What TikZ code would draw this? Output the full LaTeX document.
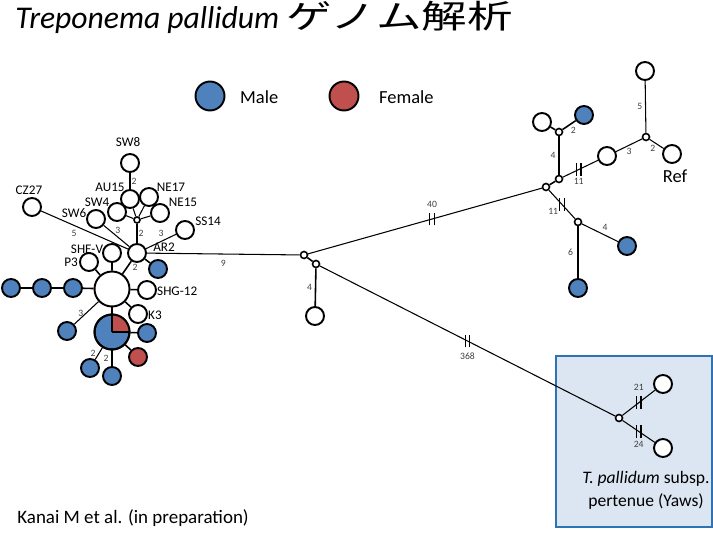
\documentclass[tikz,border=0pt]{standalone}
\usepackage{graphicx}
\usepackage{fontspec}
\setmainfont{Carlito}
\newfontfamily\cjk{Noto Sans CJK JP}
\usepackage{tikz}
\usetikzlibrary{positioning, decorations.markings}

\definecolor{maleblue}{HTML}{4F81BD}
\definecolor{femred}{HTML}{C0504D}
\definecolor{yawsfill}{HTML}{DCE6F2}
\definecolor{yawsline}{HTML}{2E74B5}

\begin{document}
\begin{tikzpicture}[
  % one unit = one pixel of the slide, y runs downwards
  x=0.02cm,
  y=-0.02cm,
  st/.style={circle, draw, line width=1.1pt, fill=white, minimum size=0.36cm, inner sep=0pt},
  stm/.style={st, fill=maleblue},
  stf/.style={st, fill=femred},
  stbig/.style={st, minimum size=0.7cm},
  hub/.style={circle, draw, line width=0.9pt, fill=white, minimum size=0.14cm, inner sep=0pt},
  lab/.style={font=\fontsize{7.5}{8}\selectfont, inner sep=0.5pt},
  num/.style={font=\fontsize{5.5}{6}\selectfont, text=black!75, inner sep=0.5pt},
  link/.style={line width=0.9pt},
  thin link/.style={line width=0.6pt},
  brk/.style={postaction={decorate, decoration={markings,
      mark=at position #1 with {\pgftransformresetnontranslations
        \draw[line width=0.8pt] (-1.3pt,-3.6pt) -- (-1.3pt,3.6pt) (1.3pt,-3.6pt) -- (1.3pt,3.6pt);}}}},
  brk/.default=0.5
]
  \useasboundingbox (0,0) rectangle (713,550);

  % Title and legend
  \node[anchor=base west, inner sep=0pt] (title) at (15,29)
    {\fontsize{18}{20}\selectfont\textit{Treponema pallidum} \scalebox{1.4}[1]{\cjk\fontsize{18.5}{20}\selectfont ゲノム解析}};
  \node[stm, minimum size=0.58cm] (legm) at (210,96) {};
  \node[anchor=west, font=\fontsize{10.5}{12}\selectfont] (legmt) at (234,97) {Male};
  \node[stf, minimum size=0.58cm] (legf) at (344,96) {};
  \node[anchor=west, font=\fontsize{10.5}{12}\selectfont] (legft) at (373,97) {Female};

  % Yaws box
  \node[draw=yawsline, fill=yawsfill, line width=1.4pt, minimum width=3.12cm, minimum height=3.42cm] (yawsbox) at (634,441.5) {};

  % Left cluster
  \node[st] (sw8) at (130,163) {};
  \node[st] (au15) at (130,199) {};
  \node[st] (ne17) at (149,197) {};
  \node[st] (sw4) at (117,212) {};
  \node[st] (ne15) at (160,213) {};
  \node[st] (sw6) at (96,219) {};
  \node[hub, minimum size=0.12cm] (h1) at (137,220) {};
  \node[st] (cz27) at (32,207) {};
  \node[st] (ss14) at (185,230) {};
  \node[st] (ar2) at (137,253) {};
  \node[st] (shev) at (112,253) {};
  \node[st] (p3) at (89,262) {};
  \node[stm] (m1) at (158,269) {};
  \node[stbig] (core) at (112,289) {};
  \node[st] (shg12) at (147,290) {};
  \node[st] (k3) at (138,314) {};
  \node[stm] (m2) at (73,288) {};
  \node[stm] (m3) at (42,288) {};
  \node[stm] (m4) at (11,288) {};
  \node[stm] (m5) at (67,331) {};
  \node[stbig, fill=maleblue] (pie) at (112,332) {};
  \node[stm] (m6) at (147,333) {};
  \node[stf] (f1) at (138,357) {};
  \node[stm] (m7) at (90,368) {};
  \node[stm] (m8) at (112,376) {};

  % Red quarter of the mixed node
  \fill[femred] (pie.center) -- ++(0.35cm,0) arc[start angle=0, end angle=90, radius=0.35cm] -- cycle;
  \draw[line width=1.1pt] (pie.center) circle[radius=0.35cm];
  \draw[line width=1.1pt] (pie.center) -- ++(0.35cm,0) (pie.center) -- ++(0,0.35cm);

  % Strain names
  \node[lab] (sw8-l) at (128,142) {SW8};
  \node[lab] (au15-l) at (110,187) {AU15};
  \node[lab] (ne17-l) at (171,187) {NE17};
  \node[lab] (sw4-l) at (97,202) {SW4};
  \node[lab] (ne15-l) at (183,202) {NE15};
  \node[lab] (sw6-l) at (74,213) {SW6};
  \node[lab] (cz27-l) at (29,190) {CZ27};
  \node[lab] (ss14-l) at (208,221) {SS14};
  \node[lab] (ar2-l) at (164,247) {AR2};
  \node[lab] (shev-l) at (87,249) {SHE-V};
  \node[lab] (p3-l) at (71,262) {P3};
  \node[lab, anchor=west] (shg12-l) at (156,291) {SHG-12};
  \node[lab, anchor=west] (k3-l) at (147,315) {K3};

  % Middle hubs
  \node[hub] (h2) at (304,255) {};
  \node[hub] (h3) at (316,264) {};
  \node[st] (w0) at (315,316) {};

  % Right cluster
  \node[hub] (hr) at (546,187) {};
  \node[hub] (hr2) at (559,179) {};
  \node[hub] (hr3) at (559,132) {};
  \node[st] (w1) at (542,122) {};
  \node[stm] (m9) at (584,115) {};
  \node[st] (w2) at (607,156) {};
  \node[hub] (hr4) at (646,137) {};
  \node[st] (w3) at (645,71) {};
  \node[st] (ref) at (672,154) {};
  \node[lab, font=\fontsize{10.5}{12}\selectfont] (ref-l) at (675,176) {Ref};
  \node[hub] (hr5) at (578,222) {};
  \node[stm] (m10) at (627,246) {};
  \node[stm] (m11) at (578,288) {};

  % Yaws
  \node[hub] (hy) at (619,418) {};
  \node[st] (y1) at (663,384) {};
  \node[st] (y2) at (663,448) {};
  \node[align=center, font=\fontsize{10}{13}\selectfont] (yaws-l) at (646,490) {\textit{T. pallidum} subsp.\\pertenue (Yaws)};

  % Edges, left cluster
  \draw[link] (sw8) -- node[num, right] {2} (au15);
  \draw[thin link] (h1) -- (au15) (h1) -- (ne17) (h1) -- (sw4) (h1) -- (ne15);
  \draw[link] (h1) -- node[num, right] {2} (ar2);
  \draw[thin link] (sw6) -- node[num, above=1pt, pos=0.55] {3} (ar2);
  \draw[thin link] (cz27) -- node[num, below=2pt, pos=0.38] {5} (ar2);
  \draw[thin link] (ss14) -- node[num, above=2pt, pos=0.5] {3} (ar2);
  \draw[link] (ar2) -- node[num, right=2pt, pos=0.45] {2} (core);
  \draw[link] (ar2) -- (m1);
  \draw[link] (core) -- (shev) (core) -- (p3) (core) -- (shg12) (core) -- (k3);
  \draw[link] (core) -- (m2) (m2) -- (m3) (m3) -- (m4);
  \draw[thin link] (core) -- node[num, left=1pt] {3} (m5);
  \draw[link] (core) -- (pie);
  \draw[link] (pie) -- (m6) (pie) -- (f1);
  \draw[thin link] (pie) -- node[num, left=1pt] {2} (m7);
  \draw[link] (pie) -- node[num, left=1pt] {2} (m8);

  % Edges, middle
  \draw[thin link] (ar2) -- node[num, below=3pt] {9} (h2);
  \draw[link] (h2) -- (h3);
  \draw[link] (h3) -- node[num, left=1pt] {4} (w0);
  \draw[thin link, brk=0.53] (h2) -- node[num, above=6pt, pos=0.53] {40} (hr);
  \draw[thin link, brk] (h3) -- node[num, below=6pt] {368} (hy);

  % Edges, right cluster
  \draw[link] (hr) -- (hr2);
  \draw[link] (hr2) -- node[num, left=1pt] {4} (hr3);
  \draw[link] (hr3) -- (w1);
  \draw[link] (hr3) -- node[num, below right=0pt] {2} (m9);
  \draw[thin link, brk=0.45] (hr2) -- node[num, below=4pt, pos=0.45] {11} (w2);
  \draw[thin link] (w2) -- node[num, below=1pt] {3} (hr4);
  \draw[thin link] (hr4) -- node[num, left=1pt] {5} (w3);
  \draw[thin link] (hr4) -- node[num, below left=0pt] {2} (ref);
  \draw[thin link, brk] (hr) -- node[num, below left=2pt] {11} (hr5);
  \draw[thin link] (hr5) -- node[num, above right=1pt] {4} (m10);
  \draw[thin link] (hr5) -- node[num, left=2pt] {6} (m11);

  % Edges, Yaws
  \draw[thin link, brk] (hy) -- node[num, above=6pt] {21} (y1);
  \draw[thin link, brk] (hy) -- node[num, below=5pt] {24} (y2);

  % Citation
  \node[anchor=west, inner sep=0pt, font=\fontsize{10.8}{12}\selectfont] (cite) at (17,518) {Kanai M et al. (in preparation)};
\end{tikzpicture}
\end{document}
